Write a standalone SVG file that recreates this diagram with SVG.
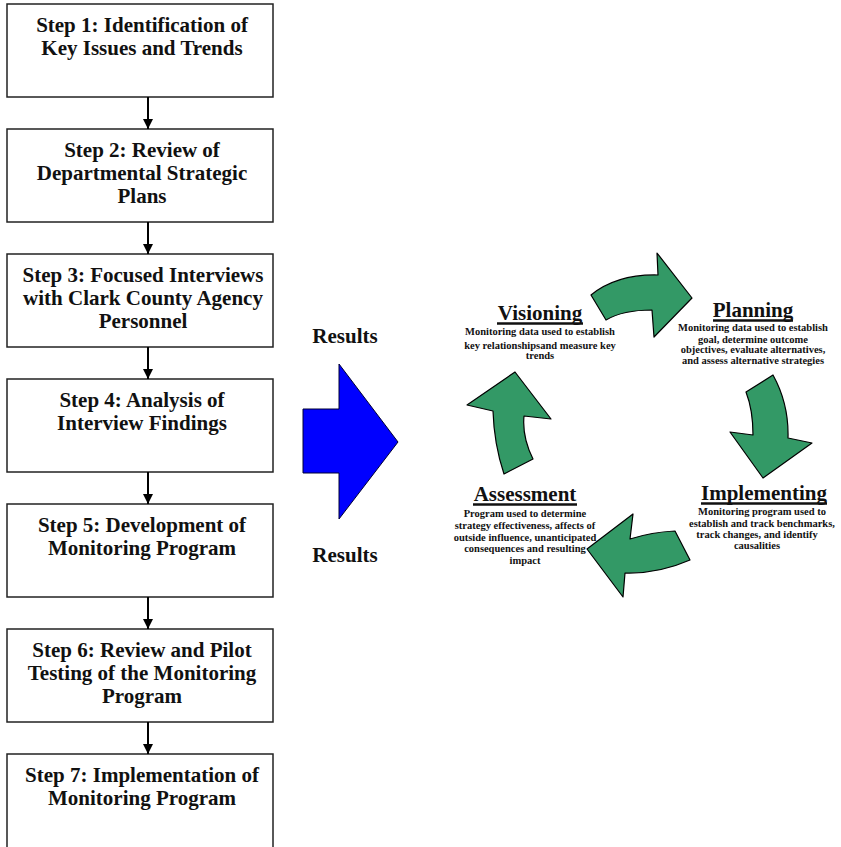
<svg xmlns="http://www.w3.org/2000/svg" width="841" height="847" viewBox="0 0 841 847">
<defs>
<style>
.box{fill:#fff;stroke:#222;stroke-width:1.5}
.st{font-family:"Liberation Serif","Times New Roman",serif;font-weight:bold;font-size:21px;fill:#111;text-anchor:middle}
.ttl{font-family:"Liberation Serif","Times New Roman",serif;font-weight:bold;font-size:21px;fill:#111;text-anchor:middle}
.sm{font-family:"Liberation Serif","Times New Roman",serif;font-weight:bold;font-size:10.5px;fill:#111;text-anchor:middle}
.ul{stroke:#111;stroke-width:2.5}
.conn{stroke:#000;stroke-width:2;fill:none}
.grn{fill:#339966;stroke:#000;stroke-width:1.2;stroke-linejoin:round}
</style>
<marker id="ah" markerWidth="10" markerHeight="10" refX="10" refY="5" orient="auto" markerUnits="userSpaceOnUse">
<path d="M0,0 L10,5 L0,10 Z" fill="#000"/>
</marker>
</defs>
<rect width="841" height="847" fill="#fff"/>

<g id="step1"><rect class="box" x="7" y="4" width="266" height="93"/>
<text class="st" x="142" y="32">Step 1: Identification of</text><text class="st" x="142" y="55">Key Issues and Trends</text></g>
<g id="step2"><rect class="box" x="7" y="129" width="266" height="93"/>
<text class="st" x="142" y="157">Step 2: Review of</text><text class="st" x="142" y="180">Departmental Strategic</text><text class="st" x="142" y="203">Plans</text></g>
<g id="step3"><rect class="box" x="7" y="254" width="266" height="93"/>
<text class="st" x="143" y="282">Step 3: Focused Interviews</text><text class="st" x="143" y="305">with Clark County Agency</text><text class="st" x="143" y="328">Personnel</text></g>
<g id="step4"><rect class="box" x="7" y="379" width="266" height="93"/>
<text class="st" x="142" y="407">Step 4: Analysis of</text><text class="st" x="142" y="430">Interview Findings</text></g>
<g id="step5"><rect class="box" x="7" y="504" width="266" height="93"/>
<text class="st" x="142" y="532">Step 5: Development of</text><text class="st" x="142" y="555">Monitoring Program</text></g>
<g id="step6"><rect class="box" x="7" y="629" width="266" height="93"/>
<text class="st" x="142" y="657">Step 6: Review and Pilot</text><text class="st" x="142" y="680">Testing of the Monitoring</text><text class="st" x="142" y="703">Program</text></g>
<g id="step7"><rect class="box" x="7" y="754" width="266" height="98"/>
<text class="st" x="142" y="782">Step 7: Implementation of</text><text class="st" x="142" y="805">Monitoring Program</text></g>

<g id="connectors">
<line class="conn" x1="148" y1="97" x2="148" y2="129" marker-end="url(#ah)"/>
<line class="conn" x1="148" y1="222" x2="148" y2="254" marker-end="url(#ah)"/>
<line class="conn" x1="148" y1="347" x2="148" y2="379" marker-end="url(#ah)"/>
<line class="conn" x1="148" y1="472" x2="148" y2="504" marker-end="url(#ah)"/>
<line class="conn" x1="148" y1="597" x2="148" y2="629" marker-end="url(#ah)"/>
<line class="conn" x1="148" y1="722" x2="148" y2="754" marker-end="url(#ah)"/>
</g>

<g id="results">
<text class="st" x="345" y="343">Results</text>
<path d="M303,409 L339,409 L339,364 L398,442 L339,519 L339,473 L303,473 Z" fill="#0000FF" stroke="#000033" stroke-width="1"/>
<text class="st" x="345" y="562">Results</text>
</g>

<g id="cycle-arrows">
<path class="grn" d="M591,295 Q617,274 658,275 L657,253 L692,298 L654,337 L652,310 Q623,310 606,320 Z"/>
<path class="grn" d="M773,375 Q789,404 788,438 L812,443 L763,478 L730,432 L753,435 Q753,410 746,392 Z"/>
<path class="grn" d="M690,560 Q658,574 625,573 L623,597 L587,549 L633,514 L630,539 Q652,532 675,531 Z"/>
<path class="grn" d="M504,474 Q494,444 493,411 L467,405 L515,372 L551,419 L524,416 Q522,437 533,459 Z"/>
</g>

<g id="visioning">
<text class="ttl" x="540" y="320">Visioning</text><line class="ul" x1="497" y1="323.5" x2="583" y2="323.5"/>
<text class="sm" x="540" y="335">Monitoring data used to establish</text>
<text class="sm" x="540" y="348.5">key relationshipsand measure key</text>
<text class="sm" x="540" y="359">trends</text>
</g>
<g id="planning">
<text class="ttl" x="753" y="317">Planning</text><line class="ul" x1="713" y1="320.5" x2="793" y2="320.5"/>
<text class="sm" x="753" y="331">Monitoring data used to establish</text>
<text class="sm" x="753" y="342.5">goal, determine outcome</text>
<text class="sm" x="753" y="353">objectives, evaluate alternatives,</text>
<text class="sm" x="753" y="364">and assess alternative strategies</text>
</g>
<g id="implementing">
<text class="ttl" x="764" y="500">Implementing</text><line class="ul" x1="701" y1="503.5" x2="827" y2="503.5"/>
<text class="sm" x="762" y="515">Monitoring program used to</text>
<text class="sm" x="762" y="526.5">establish and track benchmarks,</text>
<text class="sm" x="757" y="538">track changes, and identify</text>
<text class="sm" x="757" y="549">causalities</text>
</g>
<g id="assessment">
<text class="ttl" x="525" y="501">Assessment</text><line class="ul" x1="473" y1="504.5" x2="577" y2="504.5"/>
<text class="sm" x="525" y="517">Program used to determine</text>
<text class="sm" x="525" y="529">strategy effectiveness, affects of</text>
<text class="sm" x="525" y="540.5">outside influence, unanticipated</text>
<text class="sm" x="525" y="552">consequences and resulting</text>
<text class="sm" x="525" y="564">impact</text>
</g>
</svg>
